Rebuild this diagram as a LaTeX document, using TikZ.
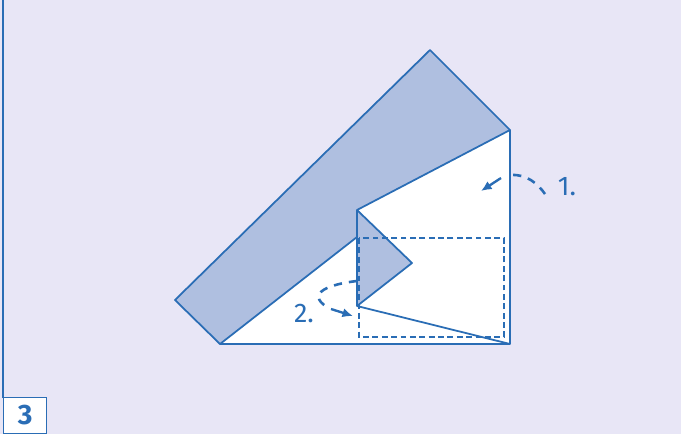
\documentclass[tikz,border=0pt]{standalone}
\usepackage{fontspec}
\setmainfont{Fira Sans}
\usepackage{tikz}
\usetikzlibrary{arrows.meta}

\definecolor{bgpaper}{HTML}{E8E6F6}
\definecolor{foldblue}{HTML}{2A6DB5}
\definecolor{foldfill}{HTML}{AFBFE0}

\begin{document}
\begin{tikzpicture}[x=0.03cm,y=-0.03cm]
        \tikzstyle{edge}=[foldblue, line width=1.5pt, line join=round]
        \tikzstyle{fold}=[foldblue, line width=2.2pt, dash pattern=on 7pt off 6pt]
        \tikzstyle{push}=[foldblue, line width=2pt, -{Latex[length=9pt,width=8pt]}]
        \tikzstyle{lbl}=[text=foldblue, font=\fontsize{23}{26}\selectfont, inner sep=0pt]

            % paper and frame
            \fill[bgpaper] (0,0) rectangle (681,434);
            \useasboundingbox (0,0) rectangle (681,434);
            \draw[foldblue, line width=1.2pt] (3,0) -- (3,398);

            % corners of the folded sheet
            \coordinate (tip) at (430,50);
            \coordinate (tr) at (510,130);
            \coordinate (br) at (510,344);
            \coordinate (bl) at (220,344);
            \coordinate (lf) at (175,300);
            \coordinate (nt) at (357,210);
            \coordinate (nm) at (357,237);
            \coordinate (nb) at (357,306);
            \coordinate (fp) at (412,263);

            % white part
            \fill[white] (bl) -- (br) -- (tr) -- (nt) -- (nm) -- cycle;

            % shaded flaps
            \fill[foldfill] (lf) -- (tip) -- (tr) -- (nt) -- (nm) -- (bl) -- cycle;
            \fill[foldfill] (nt) -- (fp) -- (nb) -- cycle;

            % outlines
            \draw[edge] (bl) -- (lf) -- (tip) -- (tr) -- (br) -- cycle;
            \draw[edge] (tr) -- (nt) -- (nb) -- (br);
            \draw[edge] (nt) -- (fp) -- (nb);
            \draw[edge] (bl) -- (nm);

            % dashed target box
            \draw[foldblue, line width=1pt, dash pattern=on 5pt off 3pt] (359,238) rectangle (504,337);

            % arrows
            \node[lbl](one) at (567,187){1.};
            \node[lbl](two) at (304,314){2.};
            \coordinate (a1s) at (545,194);
            \coordinate (a1e) at (481,191);
            \coordinate (a2s) at (357,281);
            \coordinate (a2e) at (353,316);

            \draw[fold] (a1s) .. controls (538,184) and (527,174) .. (511,175);
            \draw[push] (501,178) -- (a1e);
            \draw[fold] (a2s) .. controls (330,284) and (305,293) .. (327,307);
            \draw[push] (331,309) -- (a2e);

            % step number
            \node[draw=foldblue, line width=1.2pt, fill=white, minimum width=1.29cm, minimum height=1.08cm, anchor=south west, inner sep=0pt, text=foldblue, font=\fontsize{24}{26}\selectfont\bfseries](num) at (3,434){3};

        \end{tikzpicture}
\end{document}
